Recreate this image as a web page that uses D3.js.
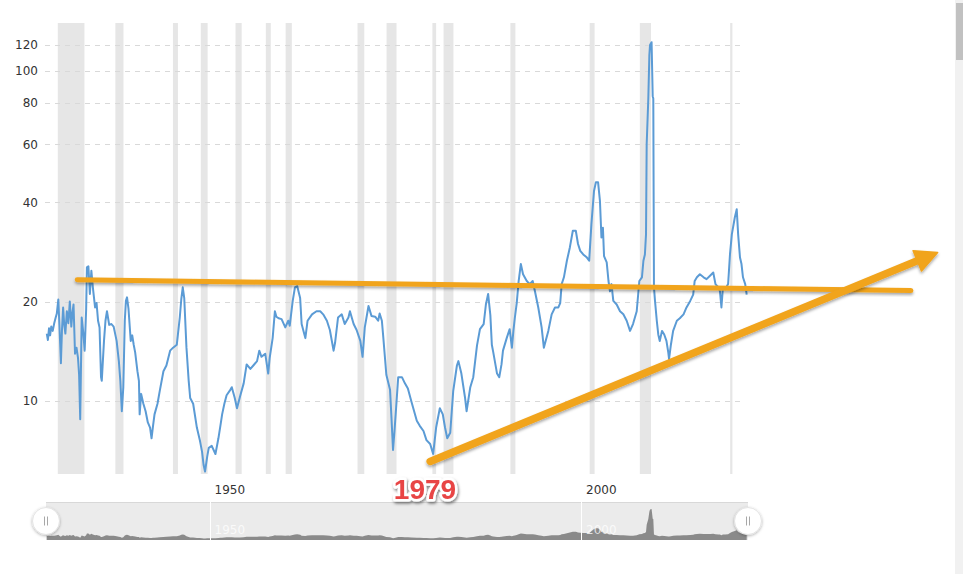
<!DOCTYPE html>
<html><head><meta charset="utf-8">
<script src="https://cdn.jsdelivr.net/npm/d3@7"></script>
<style>
html,body{margin:0;padding:0;background:#fff;overflow:hidden}
svg{display:block}
</style></head><body>
<svg id="c" width="963" height="574"></svg>
<script>
// ---- data ----
const peYears = [1928.1,1928.25,1928.4,1928.55,1928.7,1928.9,1929.1,1929.3,1929.45,1929.65,1929.8,1930.0,1930.15,1930.3,1930.45,1930.6,1930.8,1931.0,1931.2,1931.4,1931.55,1931.7,1931.9,1932.1,1932.3,1932.45,1932.6,1932.8,1933.0,1933.2,1933.4,1933.5,1933.7,1933.9,1934.1,1934.3,1934.6,1934.8,1935.0,1935.2,1935.4,1935.5,1935.8,1936.0,1936.2,1936.5,1936.8,1937.1,1937.5,1937.8,1938.0,1938.2,1938.4,1938.6,1938.75,1938.9,1939.1,1939.4,1939.6,1939.8,1940.0,1940.3,1940.5,1940.6,1940.8,1941.1,1941.4,1941.7,1942.0,1942.2,1942.4,1942.6,1943.0,1943.3,1943.8,1944.2,1944.7,1945.1,1945.6,1946.0,1946.2,1946.4,1946.6,1946.9,1947.2,1947.4,1947.8,1948.3,1948.7,1949.0,1949.2,1949.4,1949.7,1949.9,1950.3,1950.8,1951.2,1951.5,1951.7,1952.0,1952.3,1952.8,1953.0,1953.4,1953.7,1954.1,1954.6,1955.0,1955.5,1955.9,1956.4,1956.7,1957.0,1957.5,1957.9,1958.1,1958.5,1958.8,1959.0,1959.3,1959.7,1960.2,1960.6,1960.8,1961.2,1961.5,1961.8,1962.2,1962.4,1962.9,1963.2,1963.8,1964.4,1964.9,1965.3,1965.8,1966.2,1966.7,1966.9,1967.3,1967.8,1968.2,1968.7,1968.9,1969.4,1969.8,1970.3,1970.6,1970.9,1971.4,1971.8,1972.3,1972.7,1972.9,1973.2,1973.4,1973.8,1974.3,1974.5,1974.7,1974.9,1975.4,1975.9,1976.3,1976.7,1977.2,1977.9,1978.3,1978.8,1979.2,1979.7,1980.1,1980.5,1981.0,1981.4,1981.7,1982.0,1982.4,1982.8,1983.3,1983.5,1983.9,1984.4,1984.6,1985.1,1985.5,1986.0,1986.4,1986.9,1987.2,1987.5,1987.8,1988.0,1988.2,1988.7,1989.0,1989.3,1989.5,1990.0,1990.4,1990.7,1990.9,1991.1,1991.35,1991.6,1991.9,1992.2,1992.7,1993.1,1993.5,1993.8,1994.25,1994.7,1995.0,1995.6,1996.05,1996.5,1996.95,1997.2,1997.4,1997.7,1998.1,1998.5,1998.9,1999.3,1999.6,1999.9,2000.3,2000.8,2001.1,2001.4,2001.75,2002.0,2002.3,2002.55,2002.75,2002.95,2003.1,2003.46,2003.7,2003.9,2004.1,2004.35,2004.8,2005.25,2005.7,2006.15,2006.6,2007.0,2007.5,2007.85,2008.2,2008.4,2008.6,2008.75,2008.84,2009.06,2009.2,2009.29,2009.5,2009.65,2009.73,2009.82,2009.96,2010.2,2010.4,2010.6,2010.9,2011.2,2011.5,2011.75,2011.85,2012.1,2012.4,2012.9,2013.3,2013.8,2014.2,2014.7,2015.1,2015.3,2015.6,2016.0,2016.5,2016.9,2017.4,2017.8,2018.1,2018.5,2018.7,2018.9,2019.1,2019.4,2019.8,2020.05,2020.3,2020.7,2020.96,2021.15,2021.4,2021.6,2021.8,2022.1,2022.3];
const peValues = [16.0,15.3,16.6,15.8,16.8,16.3,17.2,17.9,18.4,20.3,17.0,13.0,16.5,19.2,17.0,16.0,18.7,17.2,20.0,16.8,18.5,19.6,13.9,14.5,13.5,12.0,8.8,17.9,16.2,14.2,19.0,25.4,25.6,21.1,24.8,22.1,19.2,19.8,17.5,16.7,11.8,11.5,15.2,17.5,18.7,17.0,17.1,16.8,15.2,13.2,11.5,9.3,11.0,17.5,20.1,20.6,19.0,15.2,15.8,14.8,14.0,12.3,11.5,9.1,10.5,9.8,9.3,8.6,8.3,7.7,8.4,9.1,9.8,10.7,12.3,12.8,14.2,14.5,14.8,17.9,20.3,22.1,20.5,14.5,11.5,10.2,9.8,8.3,7.6,7.0,6.4,6.1,6.8,7.2,7.3,6.9,7.7,8.5,9.1,9.8,10.4,10.8,11.0,10.2,9.5,10.3,11.3,12.9,12.5,12.8,13.2,14.2,13.6,13.9,12.1,13.5,15.5,18.7,18.0,17.8,17.7,16.7,17.5,16.9,20.1,22.1,22.3,20.5,17.1,15.5,17.5,18.3,18.7,18.7,18.3,17.5,16.4,14.2,15.0,17.9,18.3,17.1,17.9,18.7,17.1,16.4,15.2,13.6,16.7,19.4,18.1,18.0,17.5,18.4,17.5,15.5,12.0,10.8,8.8,7.1,8.1,11.8,11.8,11.3,10.9,9.9,8.7,8.4,8.1,7.6,7.4,6.9,8.3,9.5,9.1,8.3,7.7,8.0,10.7,12.8,13.2,12.1,10.2,9.3,11.0,11.8,14.7,16.5,17.1,19.6,21.1,18.2,14.8,14.0,12.1,11.8,12.9,14.2,15.5,16.5,14.5,16.3,17.9,19.8,23.0,26.0,24.2,23.1,22.6,23.1,21.5,19.2,16.7,14.5,16.3,18.3,19.2,19.2,19.8,22.6,23.7,26.6,29.2,32.8,32.8,29.9,28.5,27.8,27.2,26.6,34.3,43.3,46.0,46.0,40.4,31.3,33.5,27.5,26.3,23.1,21.5,22.6,20.1,19.6,18.7,18.3,17.5,16.3,17.1,18.7,23.1,23.7,26.6,27.8,32.0,60.0,82.6,112,120,122.4,84,82.6,22.1,20.1,17.5,15.9,15.2,16.3,15.9,15.2,14.0,13.4,14.8,16.3,17.5,17.8,18.3,19.2,20.1,21.0,23.1,23.7,24.2,23.7,23.4,24.0,24.5,22.6,22.1,21.5,19.2,22.1,21.8,22.6,27.8,32.0,36.0,38.1,32.0,27.2,26.0,23.7,22.6,21.0];
const recessionStart = [1929.58,1937.33,1945.08,1948.83,1953.5,1957.58,1960.25,1969.92,1973.83,1980.0,1981.5,1990.5,2001.17,2007.92,2020.08];
const recessionEnd   = [1933.17,1938.42,1945.75,1949.75,1954.33,1958.25,1961.08,1970.83,1975.17,1980.5,1982.83,1991.17,2001.83,2009.42,2020.33];
const yTickValues = [10,20,40,60,80,100,120];
const xTickValues = [1950,2000];
// hand-drawn annotations (in data units)
const trendLineYears = [1932.2, 2044.4];
const trendLineValues = [23.3, 21.6];
const arrowYears = [1979.7, 2048.0];
const arrowValues = [6.55, 28.2];
const annotationLabel = "1979";
const annotationYear = 1979;

// ---- layout ----
const plot = {left:45, right:747, top:23, bottom:474};
const nav = {left:46, right:748, top:502, bottom:540};
const svg = d3.select("#c");
const x = d3.scaleLinear().domain([1950,2000]).range([209.5,581]);
const y = d3.scaleLog().domain([6,140]).range([plot.bottom, plot.top]);
const data = peYears.map((yr,i)=>({yr, v:peValues[i]}));

const defs = svg.append("defs");
const sh = defs.append("filter").attr("id","shadow").attr("x","-10%").attr("y","-50%").attr("width","120%").attr("height","200%");
sh.append("feDropShadow").attr("dx",0).attr("dy",2).attr("stdDeviation",1.6).attr("flood-color","#000").attr("flood-opacity",0.35);
const tsh = defs.append("filter").attr("id","tshadow").attr("x","-20%").attr("y","-30%").attr("width","140%").attr("height","170%");
tsh.append("feDropShadow").attr("dx",1).attr("dy",2).attr("stdDeviation",1.8).attr("flood-color","#000").attr("flood-opacity",0.5);
const hsh = defs.append("filter").attr("id","hshadow").attr("x","-50%").attr("y","-50%").attr("width","200%").attr("height","200%");
hsh.append("feDropShadow").attr("dx",0).attr("dy",1).attr("stdDeviation",1.5).attr("flood-color","#000").attr("flood-opacity",0.3);
defs.append("clipPath").attr("id","clip").append("rect")
  .attr("x",plot.left).attr("y",plot.top-5).attr("width",plot.right-plot.left+2).attr("height",plot.bottom-plot.top+10);

// recession bands
svg.append("g").selectAll("rect").data(recessionStart).join("rect")
  .attr("x",(d)=>x(d))
  .attr("width",(d,i)=>Math.max(2.2, x(recessionEnd[i])-x(d)))
  .attr("y",plot.top).attr("height",plot.bottom-plot.top)
  .attr("fill","#e6e6e6");

// grid lines
svg.append("g").selectAll("line").data(yTickValues).join("line")
  .attr("x1",plot.left).attr("x2",plot.right-3)
  .attr("y1",d=>Math.round(y(d))+0.5).attr("y2",d=>Math.round(y(d))+0.5)
  .attr("stroke","#d9d9d9").attr("stroke-dasharray","5,5");

// y labels
svg.append("g").selectAll("text").data(yTickValues).join("text")
  .attr("x",38).attr("y",d=>y(d)).attr("dy","0.36em")
  .attr("text-anchor","end").attr("font-family","DejaVu Sans, Verdana, sans-serif")
  .attr("font-size",12).attr("fill","#333").text(d=>d);

// x labels
svg.append("g").selectAll("text").data(xTickValues).join("text")
  .attr("x",d=>x(d)+5).attr("y",494)
  .attr("font-family","DejaVu Sans, Verdana, sans-serif")
  .attr("font-size",12).attr("fill","#333").text(d=>d);

// PE line
svg.append("path").datum(data)
  .attr("clip-path","url(#clip)")
  .attr("d", d3.line().x(d=>x(d.yr)).y(d=>y(d.v)))
  .attr("fill","none").attr("stroke","#5b9bd5").attr("stroke-width",2)
  .attr("stroke-linejoin","round");

// navigator
const ny = d3.scaleLinear().domain([0,150]).range([nav.bottom, nav.top]);
const ng = svg.append("g");
ng.append("rect").attr("x",nav.left).attr("y",nav.top).attr("width",nav.right-nav.left).attr("height",nav.bottom-nav.top).attr("fill","#ebebeb");
ng.append("line").attr("x1",nav.left).attr("x2",nav.right).attr("y1",nav.top+0.5).attr("y2",nav.top+0.5).attr("stroke","#d8d8d8");
ng.append("path").datum(data)
  .attr("d", d3.area().x(d=>x(d.yr)).y0(nav.bottom).y1(d=>ny(d.v)))
  .attr("fill","#8a8a8a");
ng.selectAll("line.nt").data(xTickValues).join("line").attr("class","nt")
  .attr("x1",d=>Math.round(x(d))+0.5).attr("x2",d=>Math.round(x(d))+0.5)
  .attr("y1",nav.top).attr("y2",nav.bottom).attr("stroke","#fff").attr("stroke-width",1);
ng.selectAll("text").data(xTickValues).join("text")
  .attr("x",d=>x(d)+5).attr("y",534)
  .attr("font-family","DejaVu Sans, Verdana, sans-serif").attr("font-size",12)
  .attr("fill","#fff").attr("fill-opacity",0.75).text(d=>d);
[nav.left, nav.right].forEach(cx=>{
  const h = ng.append("g");
  h.append("circle").attr("cx",cx).attr("cy",521).attr("r",13.5).attr("fill","#fff").attr("stroke","#e4e4e4").attr("filter","url(#hshadow)");
  [-1.5,1.5].forEach(o=>h.append("line").attr("x1",cx+o).attr("x2",cx+o).attr("y1",516.5).attr("y2",525.5).attr("stroke","#a8a8a8").attr("stroke-width",1));
});

// annotations
const orange = "#f1a41c";
svg.append("line")
  .attr("x1",x(trendLineYears[0])).attr("y1",y(trendLineValues[0]))
  .attr("x2",x(trendLineYears[1])).attr("y2",y(trendLineValues[1]))
  .attr("stroke",orange).attr("stroke-width",5).attr("stroke-linecap","round")
  .attr("filter","url(#shadow)");

const ax0 = x(arrowYears[0]), ay0 = y(arrowValues[0]);
const ax1 = x(arrowYears[1]), ay1 = y(arrowValues[1]);
const len = Math.hypot(ax1-ax0, ay1-ay0);
const ux = (ax1-ax0)/len, uy = (ay1-ay0)/len;
const headLen = 22, headHalf = 11;
const bx = ax1-ux*headLen, by = ay1-uy*headLen;
const ag = svg.append("g").attr("filter","url(#shadow)");
ag.append("line").attr("x1",ax0).attr("y1",ay0).attr("x2",bx+ux*2).attr("y2",by+uy*2)
  .attr("stroke",orange).attr("stroke-width",7.5).attr("stroke-linecap","round");
ag.append("path")
  .attr("d",`M${ax1},${ay1}L${bx-uy*headHalf},${by+ux*headHalf}L${bx+uy*headHalf},${by-ux*headHalf}Z`)
  .attr("fill",orange).attr("stroke",orange).attr("stroke-width",1.5).attr("stroke-linejoin","round");

// 1979 label
svg.append("text").attr("x",x(annotationYear)).attr("y",499)
  .attr("text-anchor","middle").attr("font-family","Liberation Sans, Arial, sans-serif")
  .attr("font-weight","bold").attr("font-size",28)
  .attr("fill","#e84545").attr("stroke","#fff").attr("stroke-width",5)
  .attr("paint-order","stroke").attr("stroke-linejoin","round")
  .attr("filter","url(#tshadow)").text(annotationLabel);

// browser scrollbar
svg.append("rect").attr("x",955).attr("y",0).attr("width",8).attr("height",574).attr("fill","#f1f1f1");
svg.append("rect").attr("x",956).attr("y",3).attr("width",7).attr("height",57).attr("fill","#c1c1c1");
</script>
</body></html>
